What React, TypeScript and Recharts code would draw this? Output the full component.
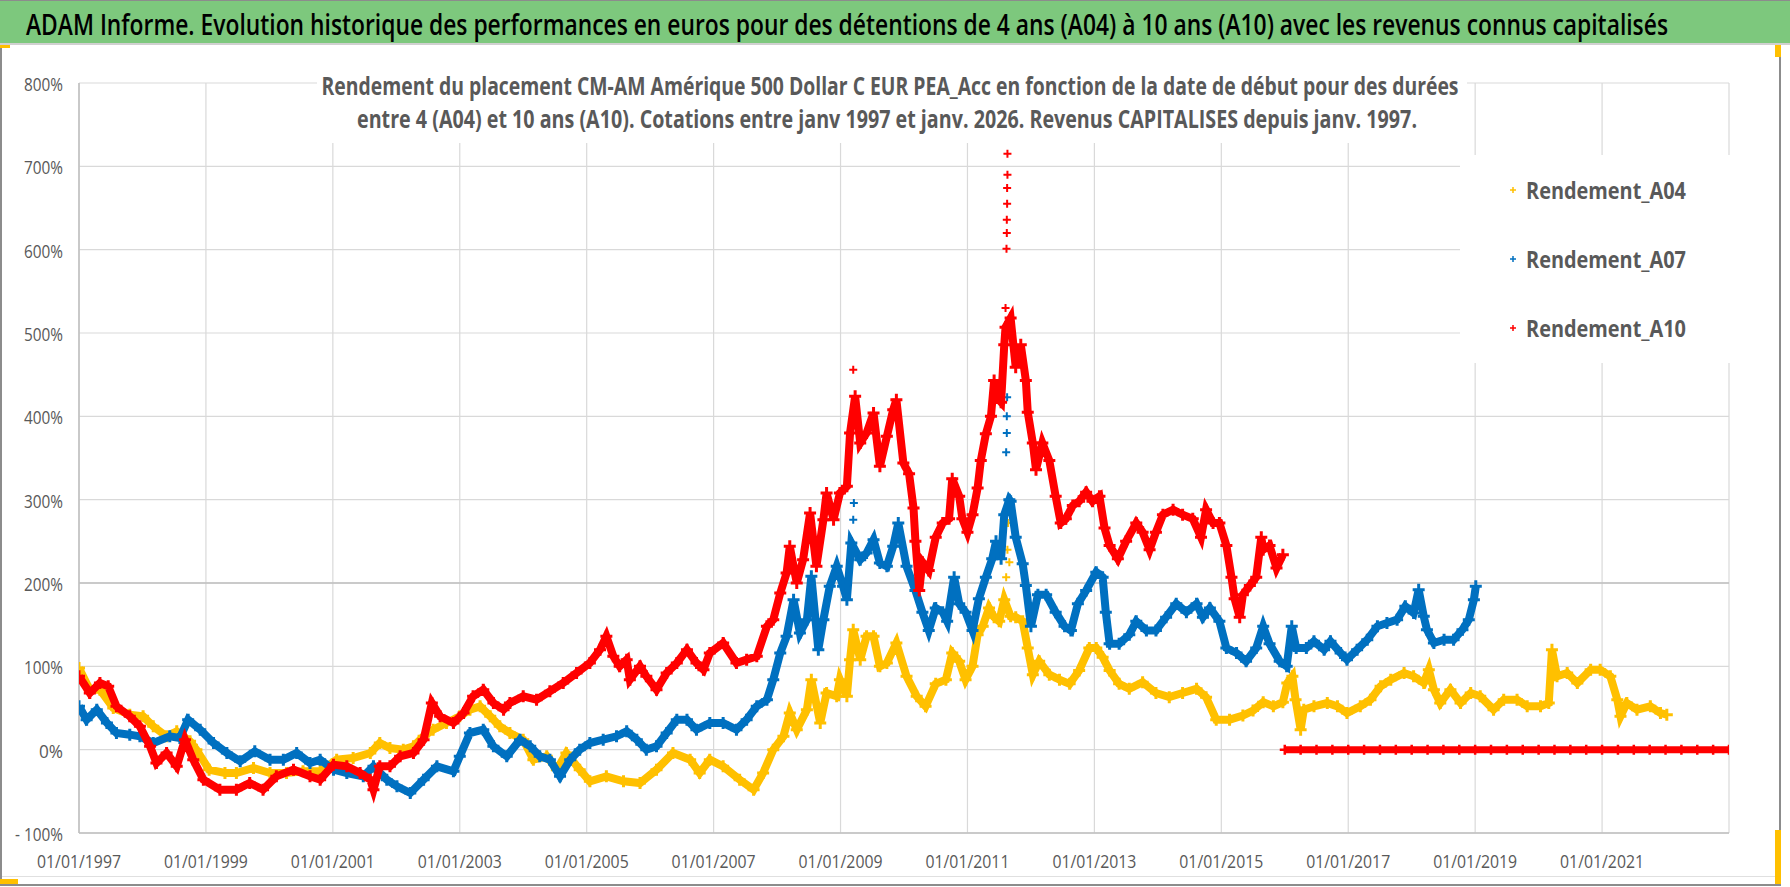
import React from 'react';
import { ScatterChart, Scatter, XAxis, YAxis, CartesianGrid, ReferenceLine } from 'recharts';

// ---------- data (date as decimal year, value in %) ----------
const X_TICKS = [1997, 1999, 2001, 2003, 2005, 2007, 2009, 2011, 2013, 2015, 2017, 2019, 2021];
const Y_TICKS = [-100, 0, 100, 200, 300, 400, 500, 600, 700, 800];

const A04: number[][] = [
  [1997.00, 98], [1997.17, 72], [1997.33, 72], [1997.54, 50], [1997.80, 42], [1998.01, 40], [1998.17, 28],
  [1998.38, 16], [1998.54, 22], [1998.75, 10], [1998.85, 0], [1999.05, -24], [1999.30, -28], [1999.48, -28],
  [1999.75, -22], [2000.01, -28], [2000.27, -28], [2000.53, -26], [2000.80, -26], [2001.06, -12], [2001.32, -10],
  [2001.59, -4], [2001.74, 8], [2001.90, 2], [2002.11, 0], [2002.27, 4], [2002.43, 16], [2002.58, 24],
  [2002.79, 32], [2003.00, 40], [2003.16, 48], [2003.32, 52], [2003.48, 40], [2003.63, 28], [2003.79, 20],
  [2004.00, 12], [2004.16, -12], [2004.37, -8], [2004.53, -24], [2004.68, -4], [2004.89, -24], [2005.05, -38],
  [2005.31, -32], [2005.58, -38], [2005.84, -40], [2006.10, -24], [2006.36, -4], [2006.63, -12], [2006.78, -28],
  [2006.94, -12], [2007.15, -20], [2007.41, -36], [2007.63, -48], [2007.78, -28], [2007.94, 0], [2008.10, 16],
  [2008.20, 44], [2008.31, 24], [2008.47, 48], [2008.54, 84], [2008.68, 32], [2008.78, 68], [2008.94, 64],
  [2008.99, 84], [2009.10, 64], [2009.15, 108], [2009.20, 144], [2009.31, 108], [2009.41, 136], [2009.52, 136],
  [2009.62, 100], [2009.73, 104], [2009.88, 128], [2010.04, 88], [2010.20, 64], [2010.34, 52], [2010.50, 79],
  [2010.66, 84], [2010.76, 116], [2010.87, 106], [2010.97, 84], [2011.08, 100], [2011.16, 138], [2011.24, 148],
  [2011.34, 170], [2011.42, 159], [2011.50, 154], [2011.58, 180], [2011.68, 160], [2011.76, 159], [2011.87, 154],
  [2011.95, 122], [2012.03, 90], [2012.13, 106], [2012.29, 90],
  [2012.45, 84], [2012.61, 79], [2012.76, 95], [2012.92, 122], [2013.03, 122], [2013.13, 111], [2013.24, 95],
  [2013.39, 79], [2013.55, 73], [2013.76, 81], [2013.97, 68], [2014.18, 63], [2014.39, 68], [2014.61, 73],
  [2014.76, 63], [2014.92, 36], [2015.13, 36], [2015.34, 41], [2015.50, 47], [2015.66, 57], [2015.82, 52],
  [2015.97, 57], [2016.04, 80], [2016.12, 88], [2016.17, 60], [2016.25, 24], [2016.30, 48], [2016.46, 52],
  [2016.67, 56], [2016.83, 52], [2016.98, 44], [2017.19, 52], [2017.35, 60], [2017.51, 76], [2017.67, 84],
  [2017.88, 92], [2018.03, 88], [2018.19, 80], [2018.27, 96], [2018.35, 72], [2018.45, 56], [2018.61, 72],
  [2018.77, 56], [2018.93, 68], [2019.08, 64], [2019.29, 48], [2019.45, 60], [2019.66, 60], [2019.82, 52],
  [2020.03, 52], [2020.16, 56], [2020.21, 120], [2020.29, 88], [2020.45, 92], [2020.61, 80], [2020.82, 96],
  [2020.97, 96], [2021.13, 88], [2021.24, 60], [2021.29, 40], [2021.39, 56], [2021.55, 48], [2021.76, 52],
  [2021.92, 44], [2022.02, 42],
];
const A04_SCATTERED: number[][] = [[2011.61, 207], [2011.63, 240], [2011.64, 272], [2011.66, 225]];

const A07: number[][] = [
  [1997.00, 52], [1997.12, 36], [1997.28, 48], [1997.44, 32], [1997.59, 20], [1997.80, 18], [1997.96, 16],
  [1998.17, 8], [1998.43, 16], [1998.59, 14], [1998.72, 36], [1998.91, 24], [1999.12, 8], [1999.33, -4],
  [1999.54, -14], [1999.77, -2], [2000.01, -12], [2000.22, -12], [2000.43, -4], [2000.64, -16], [2000.80, -12],
  [2001.01, -24], [2001.22, -28], [2001.48, -32], [2001.64, -20], [2001.85, -36], [2002.01, -44], [2002.22, -52],
  [2002.43, -36], [2002.64, -20], [2002.90, -26], [2003.00, -8], [2003.16, 20], [2003.37, 24], [2003.53, 4],
  [2003.74, -8], [2003.95, 12], [2004.11, 4], [2004.26, -8], [2004.42, -12], [2004.58, -32], [2004.74, -12],
  [2004.89, 0], [2005.05, 8], [2005.26, 12], [2005.47, 16], [2005.63, 22], [2005.79, 12], [2005.94, 0],
  [2006.10, 4], [2006.26, 20], [2006.42, 36], [2006.58, 36], [2006.73, 24], [2006.94, 32], [2007.15, 32],
  [2007.36, 24], [2007.52, 36], [2007.68, 52], [2007.84, 60], [2007.94, 84], [2008.05, 116], [2008.15, 136],
  [2008.26, 180], [2008.36, 140], [2008.47, 156], [2008.54, 208], [2008.65, 120], [2008.73, 156], [2008.83, 196],
  [2008.94, 220], [2009.04, 196], [2009.10, 180], [2009.17, 248], [2009.31, 228], [2009.41, 236],
  [2009.52, 252], [2009.62, 224], [2009.73, 220], [2009.83, 244], [2009.91, 272], [2010.04, 220], [2010.18, 191],
  [2010.29, 165], [2010.39, 143], [2010.50, 170], [2010.61, 165], [2010.68, 154], [2010.79, 207], [2010.87, 175],
  [2010.97, 165], [2011.08, 143], [2011.18, 181], [2011.29, 207], [2011.39, 229], [2011.45, 250], [2011.53, 229],
  [2011.58, 282], [2011.66, 300], [2011.68, 298], [2011.76, 255], [2011.87, 223],
  [2011.92, 197], [2012.00, 148], [2012.11, 186], [2012.24, 186], [2012.39, 165], [2012.53, 148], [2012.63, 143],
  [2012.74, 175], [2012.87, 191], [2013.03, 213], [2013.13, 207], [2013.18, 165], [2013.24, 127], [2013.39, 127],
  [2013.55, 138], [2013.66, 154], [2013.82, 143], [2013.97, 143], [2014.13, 159], [2014.29, 175], [2014.45, 165],
  [2014.61, 175], [2014.71, 159], [2014.82, 170], [2014.97, 154], [2015.08, 122], [2015.24, 116], [2015.39, 106],
  [2015.55, 122], [2015.66, 148], [2015.76, 127], [2015.92, 106], [2016.03, 100], [2016.11, 148], [2016.18, 122],
  [2016.34, 122], [2016.46, 130], [2016.62, 120], [2016.72, 130], [2016.88, 116], [2016.98, 108], [2017.14, 120],
  [2017.30, 132], [2017.46, 148], [2017.61, 152], [2017.77, 156], [2017.90, 172], [2018.03, 164], [2018.11, 192],
  [2018.19, 160], [2018.24, 144], [2018.35, 128], [2018.51, 132], [2018.66, 132], [2018.80, 144], [2018.90, 156],
  [2018.98, 180], [2019.01, 196],
];
const A07_SCATTERED: number[][] = [[2009.20, 276], [2009.21, 296], [2011.61, 357], [2011.62, 380], [2011.62, 400], [2011.625, 423]];

const A10: number[][] = [
  [1997.00, 88], [1997.17, 68], [1997.33, 80], [1997.46, 76], [1997.59, 52], [1997.80, 40], [1997.96, 28],
  [1998.12, 4], [1998.22, -16], [1998.38, -4], [1998.54, -20], [1998.67, 12], [1998.80, -12], [1998.96, -36],
  [1999.22, -48], [1999.48, -48], [1999.69, -40], [1999.90, -48], [2000.11, -32], [2000.38, -24], [2000.64, -32],
  [2000.80, -36], [2001.01, -18], [2001.22, -20], [2001.43, -28], [2001.59, -36], [2001.64, -48], [2001.74, -20],
  [2001.90, -20], [2002.06, -8], [2002.27, -4], [2002.43, 12], [2002.56, 56], [2002.69, 40], [2002.90, 32],
  [2003.06, 44], [2003.21, 64], [2003.37, 72], [2003.53, 56], [2003.69, 48], [2003.79, 56], [2004.00, 64],
  [2004.21, 60], [2004.42, 70], [2004.63, 80], [2004.84, 92], [2005.05, 104], [2005.21, 120], [2005.31, 136],
  [2005.42, 112], [2005.52, 100], [2005.63, 108], [2005.68, 84], [2005.84, 100], [2005.94, 88], [2006.10, 72],
  [2006.26, 92], [2006.42, 104], [2006.58, 120], [2006.73, 104], [2006.84, 96], [2006.94, 116], [2007.15, 128],
  [2007.36, 104], [2007.52, 108], [2007.68, 112], [2007.84, 148], [2007.94, 156], [2008.05, 188], [2008.15, 212],
  [2008.20, 244], [2008.31, 200], [2008.41, 228], [2008.52, 284], [2008.62, 220], [2008.73, 276], [2008.78, 308],
  [2008.89, 276], [2008.99, 308], [2009.10, 316], [2009.15, 380], [2009.23, 424], [2009.31, 368],
  [2009.41, 380], [2009.52, 404], [2009.62, 340], [2009.73, 376], [2009.83, 408], [2009.88, 420], [2009.99, 344],
  [2010.08, 331], [2010.15, 290], [2010.18, 250], [2010.24, 191], [2010.29, 225], [2010.39, 215], [2010.50, 255],
  [2010.61, 272], [2010.71, 277], [2010.76, 325], [2010.87, 304], [2010.92, 277], [2011.00, 261], [2011.08, 282],
  [2011.16, 314], [2011.21, 347], [2011.29, 379], [2011.37, 400], [2011.42, 443], [2011.47, 422], [2011.53, 417],
  [2011.58, 486], [2011.60, 507], [2011.68, 518], [2011.76, 459], [2011.84, 486], [2011.92, 443], [2011.95, 405],
  [2012.03, 368], [2012.08, 336], [2012.18, 368], [2012.29, 347], [2012.39, 304], [2012.47, 272], [2012.55, 277],
  [2012.66, 293], [2012.76, 298], [2012.87, 309], [2012.97, 298], [2013.08, 304], [2013.16, 266], [2013.24, 245],
  [2013.37, 229], [2013.50, 250], [2013.66, 272], [2013.76, 261], [2013.87, 240], [2013.97, 261], [2014.08, 282],
  [2014.24, 288], [2014.39, 282], [2014.55, 277], [2014.68, 255], [2014.76, 288], [2014.87, 272], [2014.97, 272],
  [2015.08, 245], [2015.16, 207], [2015.21, 181], [2015.29, 159], [2015.34, 186], [2015.45, 197], [2015.55, 207],
  [2015.63, 255], [2015.66, 240], [2015.76, 245], [2015.87, 218], [2015.97, 234],
];
const A10_SCATTERED: number[][] = [
  [2009.20, 456], [2011.615, 601], [2011.62, 620], [2011.62, 636], [2011.625, 655], [2011.625, 674],
  [2011.63, 690], [2011.63, 715], [2011.60, 530],
];

// A10 start dates without a full 10-year period, reported as 0 %
const A10_ZERO: number[][] = [
  [2016.00, 0], [2016.25, 0], [2016.50, 0], [2016.75, 0], [2017.00, 0], [2017.25, 0], [2017.50, 0], [2017.75, 0],
  [2018.00, 0], [2018.25, 0], [2018.50, 0], [2018.75, 0], [2019.00, 0], [2019.25, 0], [2019.50, 0], [2019.75, 0],
  [2020.00, 0], [2020.25, 0], [2020.50, 0], [2020.75, 0], [2021.00, 0], [2021.25, 0], [2021.50, 0], [2021.75, 0],
  [2022.00, 0], [2022.25, 0], [2022.50, 0], [2022.75, 0], [2023.00, 0],
];

const SERIES_NAMES = ['Rendement_A04', 'Rendement_A07', 'Rendement_A10'];
const COLORS = ['#FFC000', '#0070C0', '#FF0000'];

const TITLE = 'ADAM Informe. Evolution historique des performances en euros pour des détentions de 4 ans (A04) à 10 ans (A10) avec les revenus connus capitalisés';
const SUBTITLE_1 = 'Rendement du placement CM-AM Amérique 500 Dollar C EUR PEA_Acc en fonction de la date de début pour des durées';
const SUBTITLE_2 = 'entre 4 (A04) et 10 ans (A10). Cotations entre janv 1997 et janv. 2026. Revenus CAPITALISES depuis janv. 1997.';

const toPts = (arr: number[][]) => arr.map(([x, y]) => ({ x, y }));

const FONT = '"Open Sans", "Noto Sans", sans-serif';
const GREY_TEXT = '#595959';

const plusShape = (color: string, s: number, w: number) => (props: any) => {
  const { cx, cy } = props;
  if (cx == null || cy == null) return <g />;
  return (
    <path d={`M${cx - s},${cy}H${cx + s}M${cx},${cy - s}V${cy + s}`} stroke={color} strokeWidth={w} fill="none" />
  );
};

const pad2 = (n: number) => (n < 10 ? '0' + n : '' + n);

const XTick = (props: any) => {
  const { x, payload } = props;
  const label = `${pad2(1)}/${pad2(1)}/${Math.round(payload.value)}`;
  return (
    <text x={x} y={868} textAnchor="middle" fontFamily={FONT} fontSize={18} fill={GREY_TEXT}
      textLength={84} lengthAdjust="spacingAndGlyphs">{label}</text>
  );
};

const YTick = (props: any) => {
  const { y, payload } = props;
  const v = payload.value;
  const label = v < 0 ? `- ${Math.abs(v)}%` : `${v}%`;
  const len = v < 0 ? 48 : v === 0 ? 24 : 39;
  return (
    <text x={63} y={y + 8} textAnchor="end" fontFamily={FONT} fontSize={19} fill={GREY_TEXT}
      textLength={len} lengthAdjust="spacingAndGlyphs">{label}</text>
  );
};

const LINE_W = 8;

export default function App() {
  return (
    <div style={{ position: 'absolute', left: 0, top: 0, width: 1790, height: 887, background: '#fff', overflow: 'hidden' }}>
      {/* chart frame */}
      <div style={{ position: 'absolute', left: 0, top: 45, width: 1781, height: 841, border: '2px solid #8c8c8c', borderTop: 'none', boxSizing: 'border-box' }} />
      <div style={{ position: 'absolute', left: 2, top: 876, width: 1777, height: 1, background: '#e0e0e0' }} />
      <div style={{ position: 'absolute', left: 0, top: 0 }}>
        <ScatterChart width={1790} height={887} margin={{ top: 83, right: 61, bottom: 14, left: 0 }}>
          <CartesianGrid stroke="#D9D9D9" strokeWidth={1.2} />
          <XAxis type="number" dataKey="x" domain={[1997, 2023]} ticks={X_TICKS} tick={<XTick />}
            axisLine={{ stroke: '#BFBFBF', strokeWidth: 1.5 }} tickLine={false} height={40} allowDataOverflow />
          <YAxis type="number" dataKey="y" domain={[-100, 800]} ticks={Y_TICKS} tick={<YTick />}
            axisLine={{ stroke: '#BFBFBF', strokeWidth: 1.5 }} tickLine={false} width={79} allowDataOverflow />
          <ReferenceLine y={200} stroke="#BFBFBF" strokeWidth={1.6} />
          <Scatter name={SERIES_NAMES[0]} data={toPts(A04)} fill={COLORS[0]} isAnimationActive={false}
            line={{ stroke: COLORS[0], strokeWidth: LINE_W }} lineJointType="linear" shape={plusShape(COLORS[0], 6, 3)} />
          <Scatter name={SERIES_NAMES[0] + '_s'} data={toPts(A04_SCATTERED)} fill={COLORS[0]} isAnimationActive={false}
            shape={plusShape(COLORS[0], 4, 2)} legendType="none" />
          <Scatter name={SERIES_NAMES[1]} data={toPts(A07)} fill={COLORS[1]} isAnimationActive={false}
            line={{ stroke: COLORS[1], strokeWidth: LINE_W }} lineJointType="linear" shape={plusShape(COLORS[1], 6, 3)} />
          <Scatter name={SERIES_NAMES[1] + '_s'} data={toPts(A07_SCATTERED)} fill={COLORS[1]} isAnimationActive={false}
            shape={plusShape(COLORS[1], 4, 2)} legendType="none" />
          <Scatter name={SERIES_NAMES[2]} data={toPts(A10)} fill={COLORS[2]} isAnimationActive={false}
            line={{ stroke: COLORS[2], strokeWidth: LINE_W }} lineJointType="linear" shape={plusShape(COLORS[2], 6, 3)} />
          <Scatter name={SERIES_NAMES[2] + '_s'} data={toPts(A10_SCATTERED)} fill={COLORS[2]} isAnimationActive={false}
            shape={plusShape(COLORS[2], 4, 2)} legendType="none" />
          <Scatter name={SERIES_NAMES[2] + '_0'} data={toPts(A10_ZERO)} fill={COLORS[2]} isAnimationActive={false}
            line={{ stroke: COLORS[2], strokeWidth: 7 }} lineJointType="linear" shape={plusShape(COLORS[2], 5, 2.5)} legendType="none" />
        </ScatterChart>
      </div>

      {/* chart title (covers gridlines like the Excel title box) */}
      <svg style={{ position: 'absolute', left: 0, top: 0 }} width={1790} height={150}>
        <rect x={317} y={65} width={1150} height={78} fill="#fff" />
        <text transform="translate(890,95) scale(1,1.12)" x={0} y={0} textAnchor="middle" fontFamily={FONT} fontWeight={700} fontSize={23} fill={GREY_TEXT}
          textLength={1137} lengthAdjust="spacingAndGlyphs">{SUBTITLE_1}</text>
        <text transform="translate(887,128) scale(1,1.12)" x={0} y={0} textAnchor="middle" fontFamily={FONT} fontWeight={700} fontSize={23} fill={GREY_TEXT}
          textLength={1060} lengthAdjust="spacingAndGlyphs">{SUBTITLE_2}</text>
      </svg>

      {/* legend */}
      <svg style={{ position: 'absolute', left: 1460, top: 155 }} width={270} height={208}>
        <rect x={0} y={0} width={270} height={208} fill="#fff" />
        {SERIES_NAMES.map((name, i) => {
          const cy = 35 + i * 69;
          return (
            <g key={name}>
              <path d={`M${53 - 3},${cy}H${53 + 3}M${53},${cy - 3}V${cy + 3}`} stroke={COLORS[i]} strokeWidth={1.5} />
              <text x={66} y={cy + 9} fontFamily={FONT} fontWeight={700} fontSize={24} fill={GREY_TEXT}
                textLength={160} lengthAdjust="spacingAndGlyphs">{name}</text>
            </g>
          );
        })}
      </svg>

      {/* header band */}
      <div style={{ position: 'absolute', left: 0, top: 0, width: 1790, height: 45, background: '#7DC87D', borderTop: '1px solid #8c8c8c', borderBottom: '2px solid #d0d0d0', boxSizing: 'border-box' }} />
      <svg width={1790} height={45} style={{ position: 'absolute', left: 0, top: 0 }}>
        <text transform="translate(26,35) scale(1,1.42)" x={0} y={0} fontFamily={FONT} fontWeight={600} fontSize={20} fill="#000"
          textLength={1642} lengthAdjust="spacingAndGlyphs">{TITLE}</text>
      </svg>
      {/* selection handles */}
      <div style={{ position: 'absolute', left: 0, top: 45, width: 10, height: 3, background: '#FFC000' }} />
      <div style={{ position: 'absolute', left: 1775, top: 45, width: 6, height: 12, background: '#FFC000' }} />
      <div style={{ position: 'absolute', left: 0, top: 879, width: 18, height: 5, background: '#FFC000' }} />
      <div style={{ position: 'absolute', left: 1775, top: 830, width: 6, height: 54, background: '#FFC000' }} />
    </div>
  );
}
